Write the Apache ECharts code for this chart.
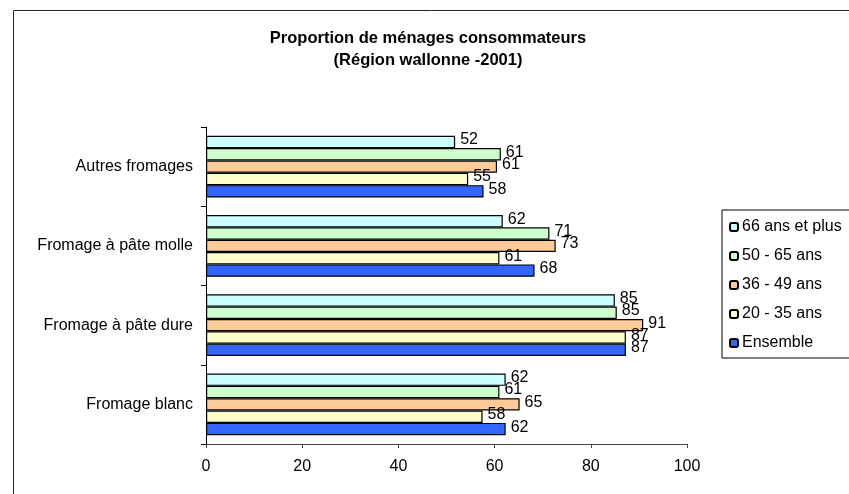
<!DOCTYPE html>
<html>
<head>
<meta charset="utf-8">
<script src="https://cdn.jsdelivr.net/npm/echarts@6/dist/echarts.min.js"></script>
<style>
  html, body { margin: 0; padding: 0; background: #fff; }
  #chart { width: 849px; height: 494px; }
</style>
</head>
<body>
<div id="chart"></div>
<script>
// catégories (de bas en haut)
const categories = ['Fromage blanc', 'Fromage à pâte dure', 'Fromage à pâte molle', 'Autres fromages'];
const xTicks = [0, 20, 40, 60, 80, 100];

// valeurs
const plus66 = [62.3, 85.0, 61.7, 51.8];
const ans50_65 = [61.0, 85.4, 71.4, 61.3];
const ans36_49 = [65.2, 90.9, 72.7, 60.5];
const ans20_35 = [57.5, 87.3, 61.0, 54.5];
const ensemble = [62.3, 87.3, 68.3, 57.7];

const seriesNames = ['66 ans et plus', '50 - 65 ans', '36 - 49 ans', '20 - 35 ans', 'Ensemble'];
const seriesData = [plus66, ans50_65, ans36_49, ans20_35, ensemble];
const colors = ['#CCFFFF', '#CCFFCC', '#FFCC99', '#FFFFCC', '#3366FF'];

const font = 'Liberation Sans, Arial, sans-serif';

const myChart = echarts.init(document.getElementById('chart'), null, { renderer: 'canvas' });

const series = seriesNames.map((name, i) => ({
  name: name,
  type: 'bar',
  data: seriesData[i],
  barGap: '0%',
  barCategoryGap: '22%',
  itemStyle: { color: colors[i], borderColor: '#000', borderWidth: 1.2 },
  label: {
    show: true,
    position: 'right',
    distance: 5,
    offset: [0, -2],
    color: '#000',
    fontFamily: font,
    fontSize: 16,
    formatter: p => Math.round(p.value)
  }
}));

const option = {
  animation: false,
  textStyle: { fontFamily: font },
  graphic: [{
    type: 'rect',
    shape: { x: 13.5, y: 10.5, width: 900, height: 600 },
    style: { fill: 'none', stroke: '#222', lineWidth: 1 },
    z: 0
  }],
  title: {
    text: 'Proportion de ménages consommateurs\n(Région wallonne -2001)',
    left: 423,
    top: 22,
    textAlign: 'center',
    textStyle: { fontFamily: font, fontSize: 16.5, fontWeight: 'bold', color: '#000', lineHeight: 22 }
  },
  legend: {
    orient: 'vertical',
    left: 722,
    top: 210,
    width: 160,
    padding: [9, 40, 7, 7],
    itemGap: 13,
    itemWidth: 8,
    itemHeight: 8,
    borderColor: '#000',
    borderWidth: 1,
    data: seriesNames,
    textStyle: { fontFamily: font, fontSize: 16, color: '#000', padding: [0, 0, 0, -1] }
  },
  grid: { left: 206, right: 162, top: 127, bottom: 50, containLabel: false },
  xAxis: {
    type: 'value',
    min: 0,
    max: 100,
    interval: 20,
    splitLine: { show: false },
    axisLine: { show: true, lineStyle: { color: '#444', width: 1 } },
    axisTick: { show: true, length: 4, lineStyle: { color: '#444' } },
    axisLabel: {
      margin: 15,
      color: '#000',
      fontFamily: font,
      fontSize: 16,
      formatter: v => xTicks.includes(v) ? String(v) : ''
    }
  },
  yAxis: {
    type: 'category',
    data: categories,
    axisLine: { show: true, lineStyle: { color: '#000', width: 1 } },
    axisTick: { show: true, length: 5, lineStyle: { color: '#000' } },
    axisLabel: { margin: 13, color: '#000', fontFamily: font, fontSize: 16 }
  },
  series: series
};

myChart.setOption(option);
</script>
</body>
</html>
